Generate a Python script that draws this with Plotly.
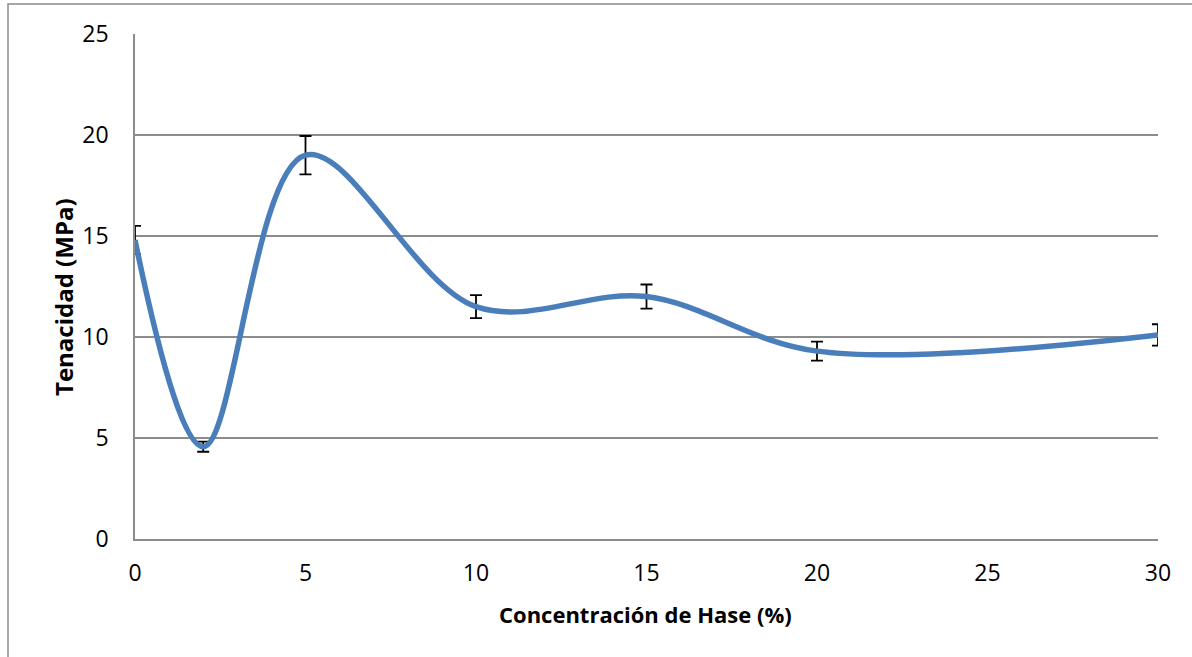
import plotly.graph_objects as go

# Hase concentration (%) and measured toughness (MPa) with its deviation
concentracion = [0, 2, 5, 10, 15, 20, 30]
tenacidad = [14.8, 4.57, 19.0, 11.5, 12.0, 9.3, 10.1]
desviacion = [0.7, 0.25, 0.95, 0.57, 0.6, 0.47, 0.53]

x_ticks = [0, 5, 10, 15, 20, 25, 30]
y_ticks = [0, 5, 10, 15, 20, 25]

W, H = 1192, 657
L, R, T, B = 135, 34, 34, 118
pw, ph = W - L - R, H - T - B

font_family = "Open Sans, Liberation Sans, sans-serif"
grid_color = "#8c8c8c"

fig = go.Figure()
fig.add_trace(go.Scatter(
    x=concentracion,
    y=tenacidad,
    mode="lines",
    line=dict(color="#4a7ebb", width=5.5, shape="spline", smoothing=1),
    error_y=dict(type="data", array=desviacion, visible=True,
                 color="black", thickness=1.8, width=6),
    showlegend=False,
    cliponaxis=False,
))

fig.update_layout(
    width=W, height=H,
    margin=dict(l=L, r=R, t=T, b=B),
    paper_bgcolor="white",
    plot_bgcolor="white",
    font=dict(family=font_family, size=23, color="black"),
    xaxis=dict(
        range=[0, 30], tickvals=x_ticks, ticktext=[str(v) for v in x_ticks],
        showgrid=False, zeroline=False,
        showline=True, linecolor=grid_color, linewidth=1.5,
        ticks="", ticklabelstandoff=13,
    ),
    yaxis=dict(
        range=[0, 25], tickvals=y_ticks, ticktext=[str(v) for v in y_ticks],
        showgrid=True, gridcolor=grid_color, gridwidth=1.5,
        zeroline=False,
        showline=True, linecolor=grid_color, linewidth=1.5,
        ticks="", ticklabelstandoff=20,
    ),
    annotations=[
        dict(text="<b>Concentración de Hase (%)</b>", xref="paper", yref="paper",
             x=(645 - L) / pw, y=-(614 - (T + ph)) / ph,
             xanchor="center", yanchor="middle", showarrow=False,
             font=dict(size=22)),
        dict(text="<b>Tenacidad (MPa)</b>", xref="paper", yref="paper",
             x=(63 - L) / pw, y=(T + ph - 297) / ph, textangle=-90,
             xanchor="center", yanchor="middle", showarrow=False,
             font=dict(size=24)),
    ],
    shapes=[
        # chart frame
        dict(type="rect", xref="paper", yref="paper",
             x0=(8 - L) / pw, x1=(W + 10 - L) / pw,
             y0=-(H + 10 - (T + ph)) / ph, y1=(T + ph - 4) / ph,
             line=dict(color="#8a8a8a", width=1.5), layer="below"),
    ],
)

fig.write_html("out.html")
